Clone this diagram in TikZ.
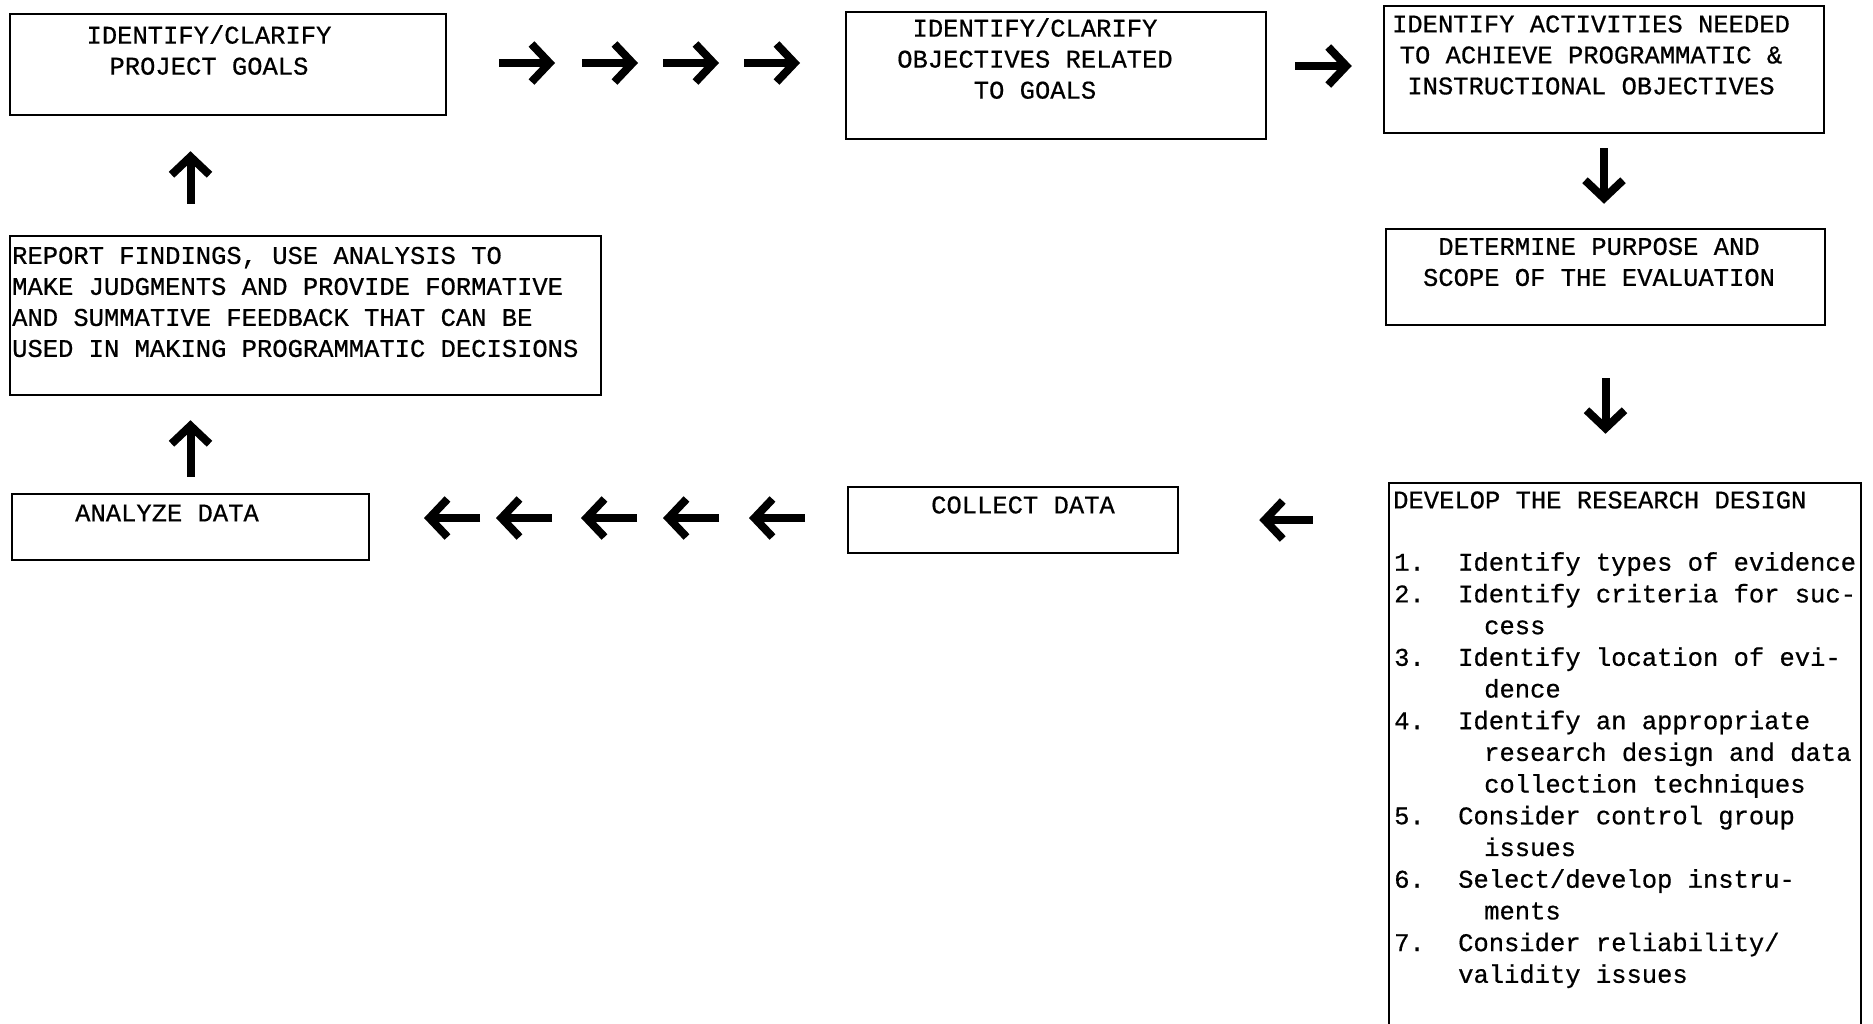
\documentclass[tikz,border=0pt]{standalone}
\usepackage{fontspec}
\setmonofont[FakeBold=0.6]{Liberation Mono}
\usetikzlibrary{arrows.meta, positioning, fit, calc}
\tikzset{
  stage/.style={draw=black, line width=2.5pt, inner sep=0pt},
  stagetext/.style={font=\ttfamily\fontsize{25.5}{31}\selectfont,
                    inner sep=0pt, align=center},
  listtext/.style={font=\ttfamily\fontsize{25.5}{31.7}\selectfont,
                   inner sep=0pt, align=left},
  bigarrow/.style={line width=8pt, -{Straight Barb[length=18pt, width=38pt]}},
}
\newcommand{\litem}[2]{\makebox[64pt][l]{#1}#2}
\newcommand{\lcont}[1]{\hspace*{90pt}#1}

\begin{document}
\begin{tikzpicture}[x=1pt, y=-1pt]
    \useasboundingbox (0,0) rectangle (1873,1023);
    \clip (0,0) rectangle (1873,1023);
    \fill[white] (0,0) rectangle (1873,1023);
    %% boxes
    \node[stage, fit={(10,14) (446,115)}]     (goals)   {};
    \node[stage, fit={(846,12) (1266,139)}]   (obj)     {};
    \node[stage, fit={(1384,6) (1824,133)}]   (act)     {};
    \node[stage, fit={(1386,229) (1825,325)}] (purpose) {};
    \node[stage, fit={(1389,483) (1861,1030)}] (design) {};
    \node[stage, fit={(848,487) (1178,553)}]  (collect) {};
    \node[stage, fit={(12,494) (369,560)}]    (analyze) {};
    \node[stage, fit={(10,236) (601,395)}]    (report)  {};
    %% texts
    \node[stagetext] (goalsT) at (209,50) {IDENTIFY/CLARIFY\\PROJECT GOALS};
    \node[stagetext] (objT) at (1035,58.5)
      {IDENTIFY/CLARIFY\\OBJECTIVES RELATED\\TO GOALS};
    \node[stagetext] (actT) at (1591,55)
      {IDENTIFY ACTIVITIES NEEDED\\TO ACHIEVE PROGRAMMATIC \&\\INSTRUCTIONAL OBJECTIVES};
    \node[stagetext] (purposeT) at (1599,262)
      {DETERMINE PURPOSE AND\\SCOPE OF THE EVALUATION};
    \node[stagetext, align=left, anchor=west] (reportT) at (12,302)
      {REPORT FINDINGS, USE ANALYSIS TO\\MAKE JUDGMENTS AND PROVIDE FORMATIVE\\%
       AND SUMMATIVE FEEDBACK THAT CAN BE\\USED IN MAKING PROGRAMMATIC DECISIONS};
    \node[stagetext] (analyzeT) at (167,513) {ANALYZE DATA};
    \node[stagetext] (collectT) at (1023,505) {COLLECT DATA};
    \node[stagetext, anchor=west] (designT) at (1393,500)
      {DEVELOP THE RESEARCH DESIGN};
    \node[listtext, anchor=north west] (designL) at (1394,552) {%
      \litem{1.}{Identify types of evidence}\\
      \litem{2.}{Identify criteria for suc-}\\
      \lcont{cess}\\
      \litem{3.}{Identify location of evi-}\\
      \lcont{dence}\\
      \litem{4.}{Identify an appropriate}\\
      \lcont{research design and data}\\
      \lcont{collection techniques}\\
      \litem{5.}{Consider control group}\\
      \lcont{issues}\\
      \litem{6.}{Select/develop instru-}\\
      \lcont{ments}\\
      \litem{7.}{Consider reliability/}\\
      \litem{}{validity issues}%
    };
    %% arrows, top row
    \foreach \x [count=\i] in {499,582,663,744} {
      \coordinate (ra\i) at (\x,63);
      \draw[bigarrow] (ra\i) -- ++(56,0);
    }
    \draw[bigarrow, shorten <=28pt, shorten >=31pt]
      ([yshift=9.5pt]obj.east) -- ([yshift=9.5pt]obj.east -| act.west);
    \draw[bigarrow, shorten <=14pt, shorten >=24pt] (act.south) -- (act.south |- purpose.north);
    \draw[bigarrow, shorten <=52pt, shorten >=48pt] (purpose.south) -- (purpose.south |- design.north);
    %% arrows, bottom row
    \draw[bigarrow, shorten <=75pt, shorten >=80pt] (collect.east -| design.west) -- (collect.east);
    \foreach \x [count=\i] in {480,552,637,719,805} {
      \coordinate (la\i) at (\x,518);
      \draw[bigarrow] (la\i) -- ++(-56,0);
    }
    \draw[bigarrow, shorten <=16pt, shorten >=24pt] (analyze.north) -- (analyze.north |- report.south);
    \draw[bigarrow, shorten <=31pt, shorten >=35pt] (analyze.north |- report.north) -- (analyze.north |- goals.south);
\end{tikzpicture}
\end{document}
